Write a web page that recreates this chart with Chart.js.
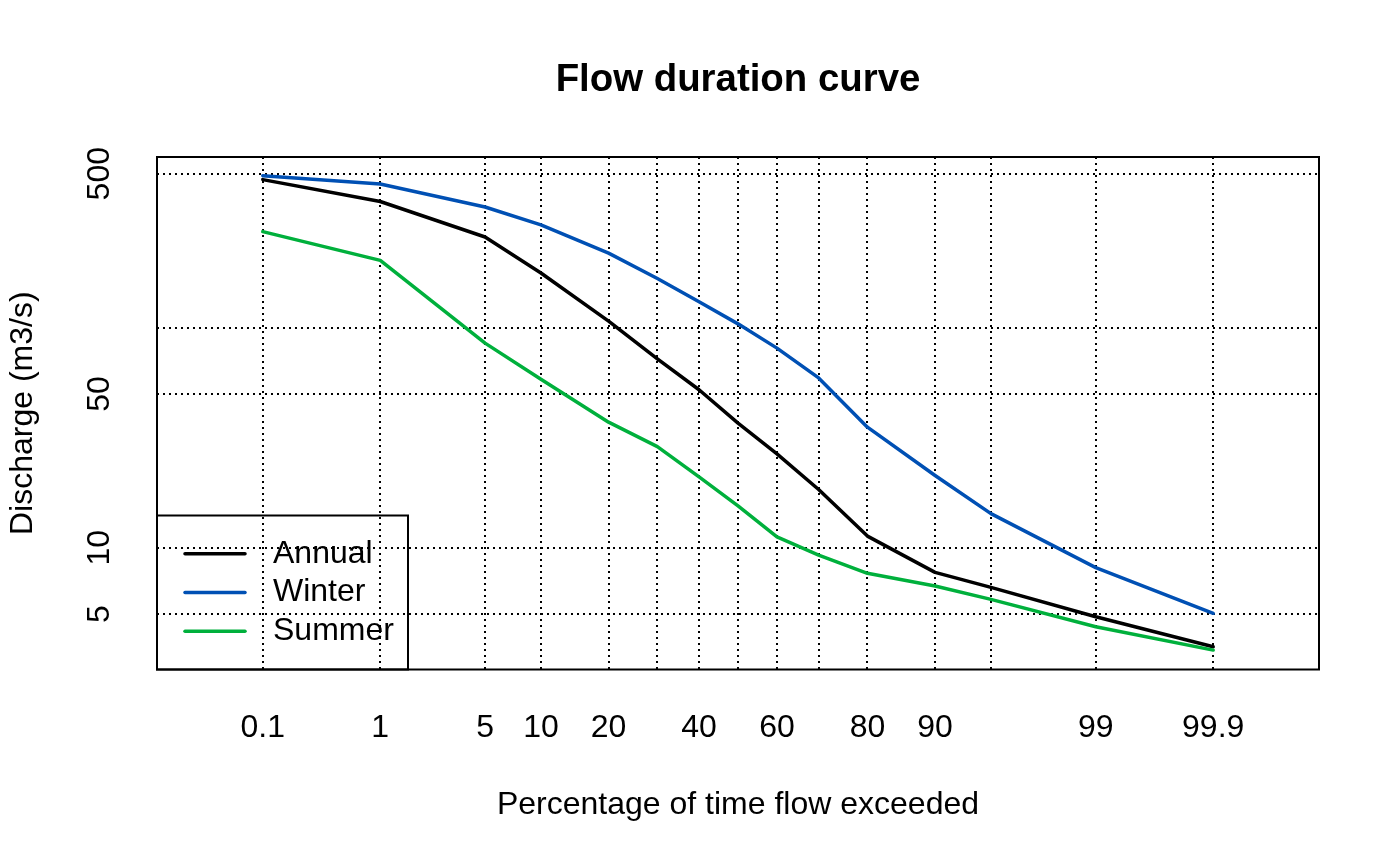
<!DOCTYPE html>
<html>
<head>
<meta charset="utf-8">
<title>Flow duration curve</title>
<script src="https://cdn.jsdelivr.net/npm/chart.js@4.4.1/dist/chart.umd.min.js"></script>
<style>
  html, body { margin: 0; padding: 0; background: #fff; }
</style>
</head>
<body>
<canvas id="chart" width="1400" height="865"></canvas>
<script>
// percentage of time flow exceeded (x) and discharge in m3/s (y)
const EXCEEDANCE = [0.1, 1, 5, 10, 20, 30, 40, 50, 60, 70, 80, 90, 95, 99, 99.9];
const ANNUAL = [470, 374, 258, 177, 107, 72.1, 52.2, 36.8, 26.7, 18.4, 11.3, 7.73, 6.61, 4.86, 3.55];
const WINTER = [490, 449, 353, 293, 218, 167, 131, 104, 80.7, 59.1, 35.3, 21.3, 14.3, 8.13, 5.04];
const SUMMER = [273, 202, 85, 58.3, 37.2, 28.8, 21.0, 15.5, 11.2, 9.27, 7.66, 6.70, 5.83, 4.38, 3.43];

const SERIES_NAMES = ['Annual', 'Winter', 'Summer'];
const SERIES_COLORS = ['#000000', '#0050b4', '#00b03c'];

const X_TICKS = [0.1, 1, 5, 10, 20, 30, 40, 50, 60, 70, 80, 90, 95, 99, 99.9];
const X_TICK_LABELS = ['0.1', '1', '5', '10', '20', '', '40', '', '60', '', '80', '90', '', '99', '99.9'];
const Y_TICKS = [5, 10, 50, 100, 500];
const Y_TICK_LABELS = ['5', '10', '50', '', '500'];

const FONT = '"Liberation Sans", Arial, Helvetica, sans-serif';

// inverse normal CDF (Acklam)
function qnorm(p) {
  const a = [-3.969683028665376e+01, 2.209460984245205e+02, -2.759285104469687e+02, 1.383577518672690e+02, -3.066479806614716e+01, 2.506628277459239e+00];
  const b = [-5.447609879822406e+01, 1.615858368580409e+02, -1.556989798598866e+02, 6.680131188771972e+01, -1.328068155288572e+01];
  const c = [-7.784894002430293e-03, -3.223964580411365e-01, -2.400758277161838e+00, -2.549732539343734e+00, 4.374664141464968e+00, 2.938163982698783e+00];
  const d = [7.784695709041462e-03, 3.224671290700398e-01, 2.445134137142996e+00, 3.754408661907416e+00];
  const pl = 0.02425;
  if (p < pl) {
    const q = Math.sqrt(-2 * Math.log(p));
    return (((((c[0]*q+c[1])*q+c[2])*q+c[3])*q+c[4])*q+c[5]) / ((((d[0]*q+d[1])*q+d[2])*q+d[3])*q+1);
  }
  if (p > 1 - pl) {
    const q = Math.sqrt(-2 * Math.log(1 - p));
    return -(((((c[0]*q+c[1])*q+c[2])*q+c[3])*q+c[4])*q+c[5]) / ((((d[0]*q+d[1])*q+d[2])*q+d[3])*q+1);
  }
  const q = p - 0.5, r = q * q;
  return (((((a[0]*r+a[1])*r+a[2])*r+a[3])*r+a[4])*r+a[5])*q / (((((b[0]*r+b[1])*r+b[2])*r+b[3])*r+b[4])*r+1);
}

function pnorm(z) {
  const t = 1 / (1 + 0.3275911 * Math.abs(z) / Math.SQRT2);
  const e = 1 - (((((1.061405429*t - 1.453152072)*t) + 1.421413741)*t - 0.284496736)*t + 0.254829592)*t * Math.exp(-z*z/2);
  return z >= 0 ? (1 + e) / 2 : (1 - e) / 2;
}

// normal probability axis, values in percent
class ProbitScale extends Chart.LinearScale {
  static id = 'probit';
  buildTicks() {
    return X_TICKS.map(v => ({ value: v }));
  }
  configure() {
    super.configure();
    this._zStart = qnorm(this.min / 100);
    this._zRange = qnorm(this.max / 100) - this._zStart;
  }
  getPixelForValue(value) {
    if (value === null || isNaN(value)) return NaN;
    return this.getPixelForDecimal((qnorm(value / 100) - this._zStart) / this._zRange);
  }
  getValueForPixel(pixel) {
    return pnorm(this._zStart + this.getDecimalForPixel(pixel) * this._zRange) * 100;
  }
}
Chart.register(ProbitScale);

const plotBox = {
  id: 'plotBox',
  afterDraw(chart) {
    const { ctx, chartArea: a } = chart;
    ctx.save();
    ctx.lineWidth = 2;
    ctx.strokeStyle = '#000';
    ctx.strokeRect(a.left, a.top, a.right - a.left, a.bottom - a.top);
    ctx.restore();
  }
};

const legendBox = {
  id: 'legendBox',
  afterDraw(chart) {
    const { ctx, chartArea: a } = chart;
    const w = 251, h = 154;
    const x0 = a.left, y0 = a.bottom - h;
    ctx.save();
    ctx.lineWidth = 2;
    ctx.strokeStyle = '#000';
    ctx.strokeRect(x0, y0, w, h);
    ctx.font = '32px ' + FONT;
    ctx.textBaseline = 'middle';
    ctx.lineCap = 'round';
    chart.data.datasets.forEach((ds, i) => {
      const y = y0 + 38.3 + i * 38.7;
      ctx.strokeStyle = ds.borderColor;
      ctx.lineWidth = 3.5;
      ctx.beginPath();
      ctx.moveTo(x0 + 28, y);
      ctx.lineTo(x0 + 88, y);
      ctx.stroke();
      ctx.fillStyle = '#000';
      ctx.fillText(ds.label, x0 + 116, y);
    });
    ctx.restore();
  }
};

Chart.defaults.font.family = FONT;
Chart.defaults.font.size = 32;
Chart.defaults.color = '#000';

const seriesData = [ANNUAL, WINTER, SUMMER];
const datasets = seriesData.map((vals, i) => ({
  label: SERIES_NAMES[i],
  data: EXCEEDANCE.map((p, j) => ({ x: p, y: vals[j] })),
  borderColor: SERIES_COLORS[i],
  backgroundColor: SERIES_COLORS[i],
  borderWidth: 3.5,
  borderJoinStyle: 'round',
  borderCapStyle: 'round',
  pointRadius: 0,
  tension: 0,
  fill: false,
  order: 3 - i
}));

const gridStyle = { color: '#000', lineWidth: 2, drawTicks: false };

new Chart(document.getElementById('chart'), {
  type: 'line',
  data: { datasets },
  options: {
    responsive: false,
    animation: false,
    events: [],
    layout: { padding: { left: 0, right: 81, top: 0, bottom: 0 } },
    scales: {
      x: {
        type: 'probit',
        position: 'bottom',
        min: 0.0079,
        max: 99.9921,
        grid: gridStyle,
        border: { display: false, dash: [2, 4] },
        ticks: {
          autoSkip: false,
          maxRotation: 0,
          padding: 39.5,
          callback: (v, i) => X_TICK_LABELS[i]
        },
        title: {
          display: true,
          text: 'Percentage of time flow exceeded',
          font: { size: 32 },
          padding: { top: 0, bottom: 40.8 }
        },
        afterFit: s => { s.height = 195.5; }
      },
      y: {
        type: 'logarithmic',
        position: 'left',
        min: 2.8,
        max: 595.5,
        bounds: 'data',
        grid: gridStyle,
        border: { display: false, dash: [2, 4] },
        afterBuildTicks: s => { s.ticks = Y_TICKS.map(v => ({ value: v })); },
        ticks: {
          autoSkip: false,
          minRotation: 90,
          maxRotation: 90,
          crossAlign: 'center',
          padding: 29.7,
          callback: v => Y_TICK_LABELS[Y_TICKS.indexOf(v)]
        },
        title: {
          display: true,
          text: 'Discharge (m3/s)',
          font: { size: 32 },
          padding: { top: 4, bottom: 0 }
        },
        afterFit: s => { s.width = 157; }
      }
    },
    plugins: {
      legend: { display: false },
      tooltip: { enabled: false },
      title: {
        display: true,
        text: 'Flow duration curve',
        fullSize: false,
        font: { size: 38.4, weight: 'bold' },
        padding: { top: 57, bottom: 53.92 }
      }
    }
  },
  plugins: [plotBox, legendBox]
});
</script>
</body>
</html>
